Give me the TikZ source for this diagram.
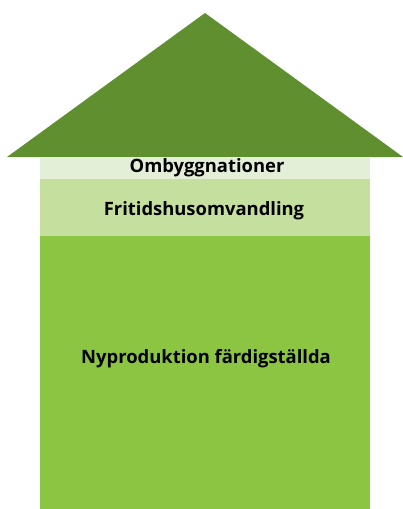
\documentclass[tikz,border=0pt]{standalone}
\usepackage{fontspec}
\setmainfont{Open Sans}
\definecolor{roofgreen}{HTML}{5F8F2F}
\definecolor{stripa}{HTML}{E3EFD6}
\definecolor{stripb}{HTML}{C4DF9E}
\definecolor{mainbody}{HTML}{8BC541}
\begin{document}
\begin{tikzpicture}[x=1pt,y=-1pt,
  lbl/.style={font=\bfseries\fontsize{18.4}{20}\selectfont, text=black, inner sep=0pt}]
\useasboundingbox (0,0) rectangle (403,509);
\fill[roofgreen] (7,157) -- (205,13) -- (403,157) -- cycle;
\fill[stripa] (40,157) rectangle (370,179);
\fill[stripb] (40,179) rectangle (370,236);
\fill[mainbody] (40,236) rectangle (370,509);
\node[lbl] (omb) at (207,168) {Ombyggnationer};
\node[lbl] (fri) at (204,211) {Fritidshusomvandling};
\node[lbl] (nyp) at (206,359) {Nyproduktion färdigställda};
\end{tikzpicture}
\end{document}
